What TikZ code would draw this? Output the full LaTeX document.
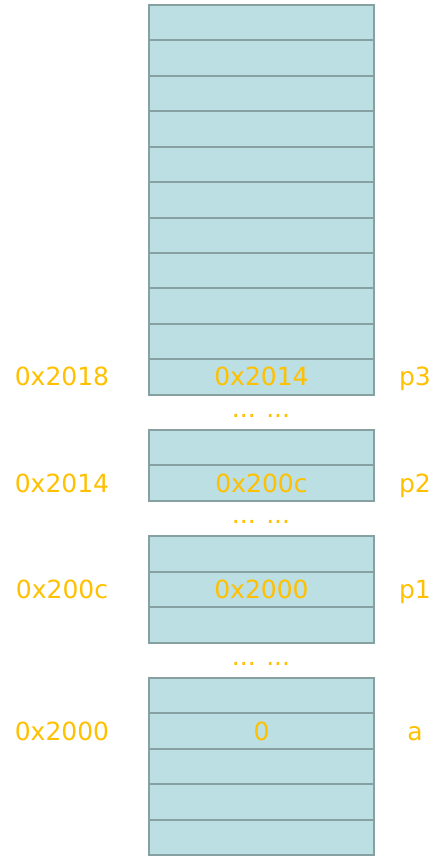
\documentclass[tikz,border=0pt]{standalone}
\usepackage{fontspec}
\setmainfont{DejaVu Sans}
\usepackage{xcolor}
\usepackage{tikz}
\usetikzlibrary{positioning}

\definecolor{cellfill}{HTML}{BBDFE2}
\definecolor{cellline}{HTML}{87A1A3}
\definecolor{addr}{HTML}{FFC000}

\begin{document}
\begin{tikzpicture}[
  x=1pt, y=-1pt,
  font=\fontsize{25}{30}\selectfont,
  cell/.style={rectangle, draw=cellline, fill=cellfill, line width=2pt,
               minimum width=225pt, minimum height=35.42pt, inner sep=0pt},
  lbl/.style={text=addr, inner sep=0pt, text height=18pt, text depth=0pt},
  gap/.style={text=addr, inner sep=0pt, anchor=base},
]
\useasboundingbox (0,0) rectangle (447,860);
% memory cells, one slot = 35.42
\foreach \s in {0,1,2,3,4,5,6,7,8,9,10,12,13,15,16,17,19,20,21,22,23}
  \node[cell] (c\s) at (261.5, 22.71+35.42*\s) {};
% address, value, name
\foreach \s/\ad/\val/\var in {10/0x2018/0x2014/p3, 13/0x2014/0x200c/p2,
                              16/0x200c/0x2000/p1, 20/0x2000/0/a}{
  \node[lbl] (ad\s)  at (62, 22.71+35.42*\s)  {\ad};
  \node[lbl] (val\s) at (c\s)                 {\val};
  \node[lbl] (var\s) at (415, 22.71+35.42*\s) {\var};
}
% skipped cells
\foreach \s in {11,14,18}
  \node[gap] (gap\s) at (261, 28+35.42*\s) {... ...};
\end{tikzpicture}
\end{document}
